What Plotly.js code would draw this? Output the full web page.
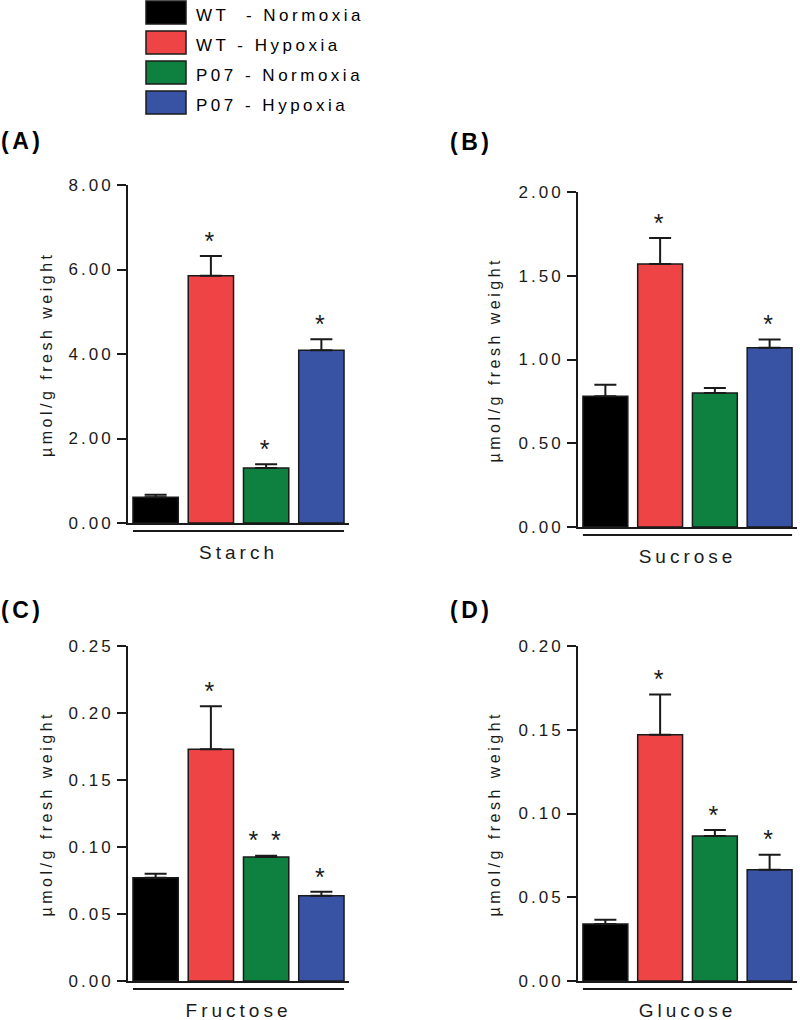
<!DOCTYPE html>
<html><head><meta charset="utf-8">
<script src="https://cdn.plot.ly/plotly-3.0.1.min.js"></script>
<style>
html,body{margin:0;padding:0;background:#fff;}
#chart{width:800px;height:1020px;}
.yaxislayer-above text{letter-spacing:3px;}
.xaxislayer-above text{letter-spacing:4px;}
.annotation-text{letter-spacing:3.5px;}
.textpoint text{letter-spacing:3px;}
</style></head><body><div id="chart"></div>
<script>
// ---- data ----
const groups = ['WT\u00a0 - Normoxia', 'WT - Hypoxia', 'P07 - Normoxia', 'P07 - Hypoxia'];
const colors = ['#000000', '#ef4446', '#0e8040', '#3953a4'];
const metabolites = ['Starch', 'Sucrose', 'Fructose', 'Glucose'];
const panelLabels = ['(A)', '(B)', '(C)', '(D)'];
const yTitle = 'µmol/g fresh weight';

const starchMean = [0.61, 5.85, 1.30, 4.09];
const starchErr  = [0.06, 0.47, 0.09, 0.26];
const starchSig  = ['', '*', '*', '*'];

const sucroseMean = [0.78, 1.57, 0.80, 1.07];
const sucroseErr  = [0.07, 0.155, 0.03, 0.05];
const sucroseSig  = ['', '*', '', '*'];

const fructoseMean = [0.077, 0.173, 0.0925, 0.0636];
const fructoseErr  = [0.003, 0.032, 0.001, 0.003];
const fructoseSig  = ['', '*', '* *', '*'];

const glucoseMean = [0.034, 0.147, 0.0866, 0.0664];
const glucoseErr  = [0.0025, 0.024, 0.0036, 0.009];
const glucoseSig  = ['', '*', '*', '*'];

const yMax  = [8, 2, 0.25, 0.20];
const yStep = [2, 0.5, 0.05, 0.05];

// ---- layout helpers ----
const W = 800, H = 1020;
const px = v => v / W;
const py = v => 1 - v / H;
// panel boxes in pixels: [left, right, top, bottom]
const boxes = [[128, 349, 185, 523], [578, 797, 192, 527], [128, 349, 646, 981], [578, 797, 646, 981]];
const labelPos = [[22, 141], [471, 142], [22, 610], [471, 610]];
const titleX = [46, 494, 46, 494];

const means = [starchMean, sucroseMean, fructoseMean, glucoseMean];
const errs = [starchErr, sucroseErr, fructoseErr, glucoseErr];
const sigs = [starchSig, sucroseSig, fructoseSig, glucoseSig];

const ink = '#1a1a1a';
const font = 'Arial, "Liberation Sans", sans-serif';
const barW = 0.82;
const xs = groups.map((g, i) => i);

const data = [];
const layout = {
  width: W, height: H, margin: {l: 0, r: 0, t: 0, b: 0},
  paper_bgcolor: '#fff', plot_bgcolor: 'rgba(0,0,0,0)',
  showlegend: false, font: {family: font, color: ink},
  shapes: [], annotations: []
};

means.forEach((m, p) => {
  const s = p === 0 ? '' : String(p + 1);
  const xa = 'x' + s, ya = 'y' + s;
  const b = boxes[p];
  data.push({
    type: 'bar', x: xs, y: m, xaxis: xa, yaxis: ya, width: barW,
    marker: {color: colors, line: {color: ink, width: 1.5}},
    error_y: {type: 'data', symmetric: false, array: errs[p], arrayminus: m.map(() => 0),
              color: ink, thickness: 2, width: 11},
    hoverinfo: 'none'
  });
  data.push({
    type: 'scatter', mode: 'text', x: xs, y: m.map((v, i) => v + errs[p][i]),
    xaxis: xa, yaxis: ya, text: sigs[p], textposition: 'top center',
    textfont: {size: 25, color: ink, family: font}, cliponaxis: false, hoverinfo: 'none'
  });
  layout['xaxis' + s] = {
    domain: [px(b[0]), px(b[1])], anchor: ya, range: [-0.5, 3.5],
    showline: true, linewidth: 2, linecolor: ink, zeroline: false, showgrid: false,
    tickvals: [1.5], ticktext: [metabolites[p]], ticks: 'outside', ticklen: 11,
    tickcolor: 'rgba(0,0,0,0)', tickfont: {size: 19, color: ink, family: font}, fixedrange: true
  };
  layout['yaxis' + s] = {
    domain: [py(b[3]), py(b[2])], anchor: xa, range: [0, yMax[p]], dtick: yStep[p],
    tickformat: '.2f', showline: true, linewidth: 2, linecolor: ink, zeroline: false,
    showgrid: false, ticks: 'outside', ticklen: 9, tickwidth: 2, tickcolor: ink,
    tickfont: {size: 17, color: ink, family: font}, fixedrange: true
  };
  // group underline beneath the x axis
  const off = 8 / (b[3] - b[2]);
  layout.shapes.push({type: 'line', xref: xa, yref: ya + ' domain',
    x0: -barW / 2, x1: xs.length - 1 + barW / 2, y0: -off, y1: -off,
    line: {color: ink, width: 2}});
  // y title
  layout.annotations.push({xref: 'paper', yref: ya + ' domain', x: px(titleX[p]), y: 0.5,
    text: yTitle, textangle: -90, showarrow: false, xanchor: 'center', yanchor: 'middle',
    font: {size: 16, color: ink, family: font}});
  // panel label
  layout.annotations.push({xref: 'paper', yref: 'paper', x: px(labelPos[p][0]), y: py(labelPos[p][1]),
    text: '<b>' + panelLabels[p] + '</b>', showarrow: false, xanchor: 'center', yanchor: 'middle',
    font: {size: 23, color: '#000', family: font}});
});

// legend (drawn manually with large swatches)
groups.forEach((g, i) => {
  const top = 1 + i * 30;
  layout.shapes.push({type: 'rect', xref: 'paper', yref: 'paper',
    x0: px(146), x1: px(186), y0: py(top + 23), y1: py(top),
    fillcolor: colors[i], line: {color: ink, width: 1.5}});
  layout.annotations.push({xref: 'paper', yref: 'paper', x: px(194), y: py(top + 15),
    text: g, showarrow: false, xanchor: 'left', yanchor: 'middle',
    font: {size: 17, color: '#000', family: font}});
});

Plotly.newPlot('chart', data, layout, {staticPlot: true, displayModeBar: false});
</script></body></html>
